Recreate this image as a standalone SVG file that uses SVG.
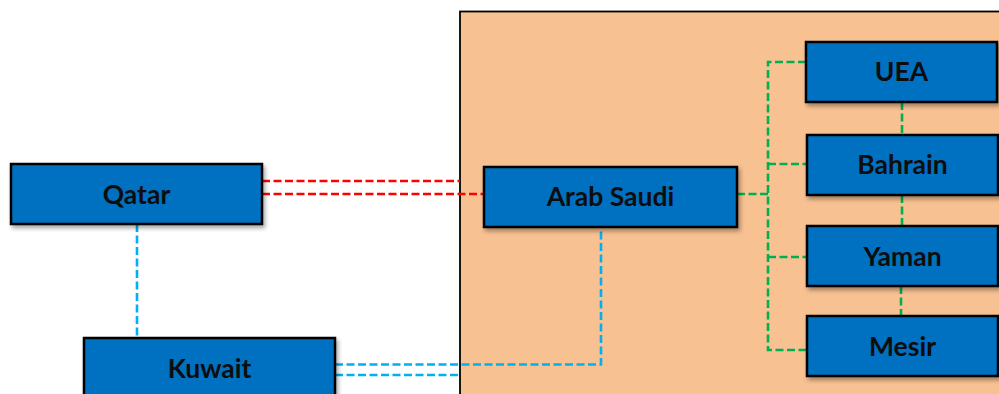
<svg xmlns="http://www.w3.org/2000/svg" width="999" height="394" viewBox="0 0 999 394">
  <style>
    .node rect { fill: #0070C0; stroke: #000; stroke-width: 2.5; filter: url(#shadow); }
    .node text { font-family: Lato, "Open Sans", "Liberation Sans", sans-serif; font-weight: bold; font-size: 26.5px; fill: #0d0d0d; text-anchor: middle; dominant-baseline: central; }
    .link { fill: none; stroke-width: 2.6; stroke-dasharray: 8 3.5; }
    .red { stroke: #FF0000; }
    .blue { stroke: #00B0F0; }
    .green { stroke: #00B050; }
  </style>
  <defs>
    <filter id="shadow" x="-10%" y="-20%" width="125%" height="150%">
      <feDropShadow dx="2" dy="3" stdDeviation="2" flood-color="#000" flood-opacity="0.35"/>
    </filter>
  </defs>
  <rect width="999" height="394" fill="#fff"/>

  <!-- region panel -->
  <rect id="panel" x="460" y="11.5" width="600" height="450" fill="#F8C192" stroke="#000" stroke-width="1.8"/>

  <g id="connectors">
    <!-- Qatar to Arab Saudi -->
    <line class="link red" x1="262" y1="181" x2="460" y2="181"/>
    <line class="link red" x1="262" y1="194" x2="484" y2="194"/>
    <!-- Qatar to Kuwait -->
    <line class="link blue" x1="137" y1="224" x2="137" y2="338"/>
    <!-- Kuwait to Arab Saudi -->
    <polyline class="link blue" points="335,364.5 601,364.5 601,227"/>
    <line class="link blue" x1="335" y1="375" x2="460" y2="375"/>
    <!-- Arab Saudi to neighbours -->
    <line class="link green" x1="737" y1="194" x2="768" y2="194"/>
    <polyline class="link green" points="806,62 768,62 768,350 807,350"/>
    <line class="link green" x1="768" y1="164" x2="807" y2="164"/>
    <line class="link green" x1="768" y1="257" x2="807" y2="257"/>
    <line class="link green" x1="902" y1="102" x2="902" y2="135"/>
    <line class="link green" x1="902" y1="195" x2="902" y2="226"/>
    <line class="link green" x1="901" y1="286" x2="901" y2="316"/>
  </g>

  <g id="qatar" class="node">
    <rect x="11" y="164" width="251" height="60"/>
    <text x="136.5" y="194">Qatar</text>
  </g>
  <g id="kuwait" class="node">
    <rect x="84" y="338" width="251" height="62"/>
    <text x="209.5" y="368">Kuwait</text>
  </g>
  <g id="arab-saudi" class="node">
    <rect x="484" y="167" width="253" height="60"/>
    <text x="610.5" y="196">Arab Saudi</text>
  </g>
  <g id="uea" class="node">
    <rect x="806" y="42" width="191" height="60"/>
    <text x="901.5" y="71">UEA</text>
  </g>
  <g id="bahrain" class="node">
    <rect x="807" y="135" width="191" height="60"/>
    <text x="902.5" y="164">Bahrain</text>
  </g>
  <g id="yaman" class="node">
    <rect x="807" y="226" width="191" height="60"/>
    <text x="902.5" y="256">Yaman</text>
  </g>
  <g id="mesir" class="node">
    <rect x="807" y="316" width="191" height="60"/>
    <text x="902.5" y="346">Mesir</text>
  </g>
</svg>
